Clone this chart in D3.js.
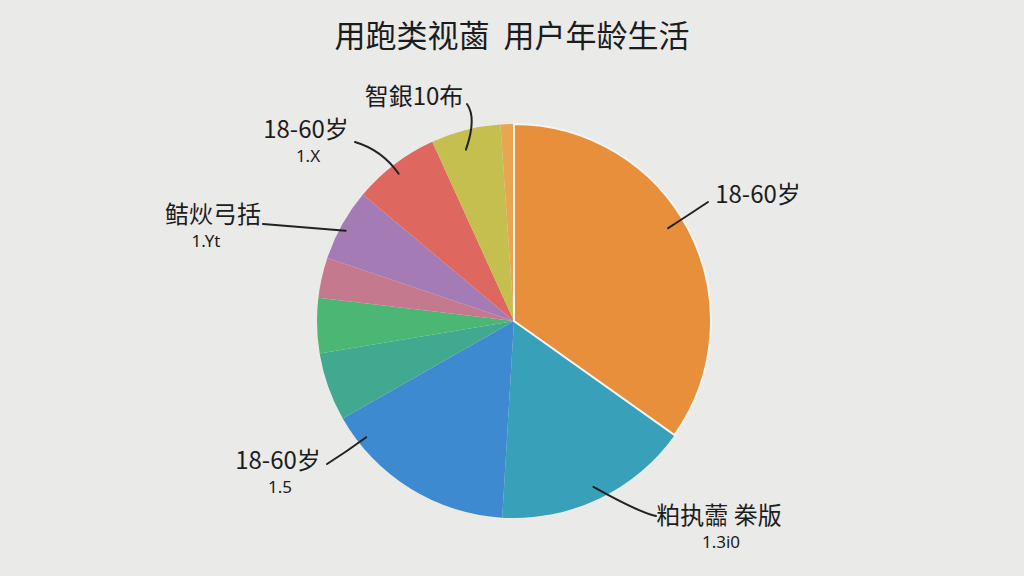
<!DOCTYPE html>
<html><head><meta charset="utf-8">
<script src="https://cdn.jsdelivr.net/npm/d3@7"></script>
<style>
html,body{margin:0;padding:0;background:#eaeae9;}
svg{display:block;}
text{font-family:"Noto Sans CJK SC","Noto Sans",sans-serif;fill:#1c1c1c;}
text.sub{font-family:"Noto Sans","DejaVu Sans",sans-serif;}
</style></head>
<body><svg id="c" width="1024" height="576"></svg>
<script>
// ---- data ----
const titleText = "用跑类视蓾  用户年龄生活";
const categories = ["A","B","C","D","E","F","G","H","I","J"];
const values = [34.8, 16.1, 15.8, 5.6, 4.5, 3.3, 5.9, 7.1, 5.7, 1.1];
const colors = ["#e88f3b","#38a0b9","#3d8ad0","#40a98f","#4cb675","#c4798f","#a57bb5","#de6860","#c4bf4e","#e9a651"];
const labelMain = ["18-60岁","粕执蘦 桊版","18-60岁","","","","鲒炏弓括","18-60岁","智銀10布",""];
const labelSub  = ["","1.3i0","1.5","","","","1.Yt","1.X","",""];

// ---- layout ----
const W = 1024, H = 576, cx = 514, cy = 321, R = 197;
const svg = d3.select("#c");
svg.append("rect").attr("width",W).attr("height",H).attr("fill","#eaeae9");

svg.append("text").attr("x",512).attr("y",47).attr("text-anchor","middle")
  .attr("font-size",31).attr("font-weight",400).style("white-space","pre").text(titleText);

const pie = d3.pie().sort(null).value(d=>d)(values);
const arc = d3.arc().innerRadius(0).outerRadius(R);
const g = svg.append("g").attr("transform",`translate(${cx},${cy})`);
g.selectAll("path.s").data(pie).join("path").attr("class","s")
  .attr("d",arc).attr("fill",(d,i)=>colors[i]);
// white edge on the main slice
g.append("path").attr("d",arc(pie[0])).attr("fill","none")
  .attr("stroke","#f4f4f2").attr("stroke-width",2);

// label layout: slice index, fraction inside slice, anchor radius, text pos, line start, control pt
const layout = [
  {i:0, f:0.47, r:180, tx:758, ty:203, lx:708, ly:202, qx:690, qy:214, sx:0},
  {i:1, f:0.5,  r:184, tx:719, ty:524, lx:656, ly:516, qx:638, qy:512, sx:2},
  {i:2, f:0.85, r:188, tx:278, ty:469, lx:327, ly:464, qx:346, qy:452, sx:2},
  {i:6, f:0.45, r:191, tx:213, ty:223, lx:263, ly:224, qx:300, qy:227, sx:-7},
  {i:7, f:0.47, r:187, tx:306, ty:138, lx:355, ly:142, qx:382, qy:150, sx:2},
  {i:8, f:0.43, r:178, tx:414, ty:105, lx:467, ly:104, qx:477, qy:118, sx:0}
];
const lg = svg.append("g");
layout.forEach(L=>{
  const d = pie[L.i];
  const a = d.startAngle + (d.endAngle-d.startAngle)*L.f;
  const ex = cx + L.r*Math.sin(a), ey = cy - L.r*Math.cos(a);
  lg.append("path").attr("d",`M${L.lx},${L.ly} Q${L.qx},${L.qy} ${ex},${ey}`)
    .attr("fill","none").attr("stroke","#222").attr("stroke-width",2).attr("stroke-linecap","round");
  lg.append("text").attr("x",L.tx).attr("y",L.ty).attr("text-anchor","middle")
    .attr("font-size",24).style("white-space","pre").text(labelMain[L.i]);
  if (labelSub[L.i]) lg.append("text").attr("class","sub").attr("x",L.tx+L.sx).attr("y",L.ty+24)
    .attr("text-anchor","middle").attr("font-size",17).text(labelSub[L.i]);
});
</script></body></html>
